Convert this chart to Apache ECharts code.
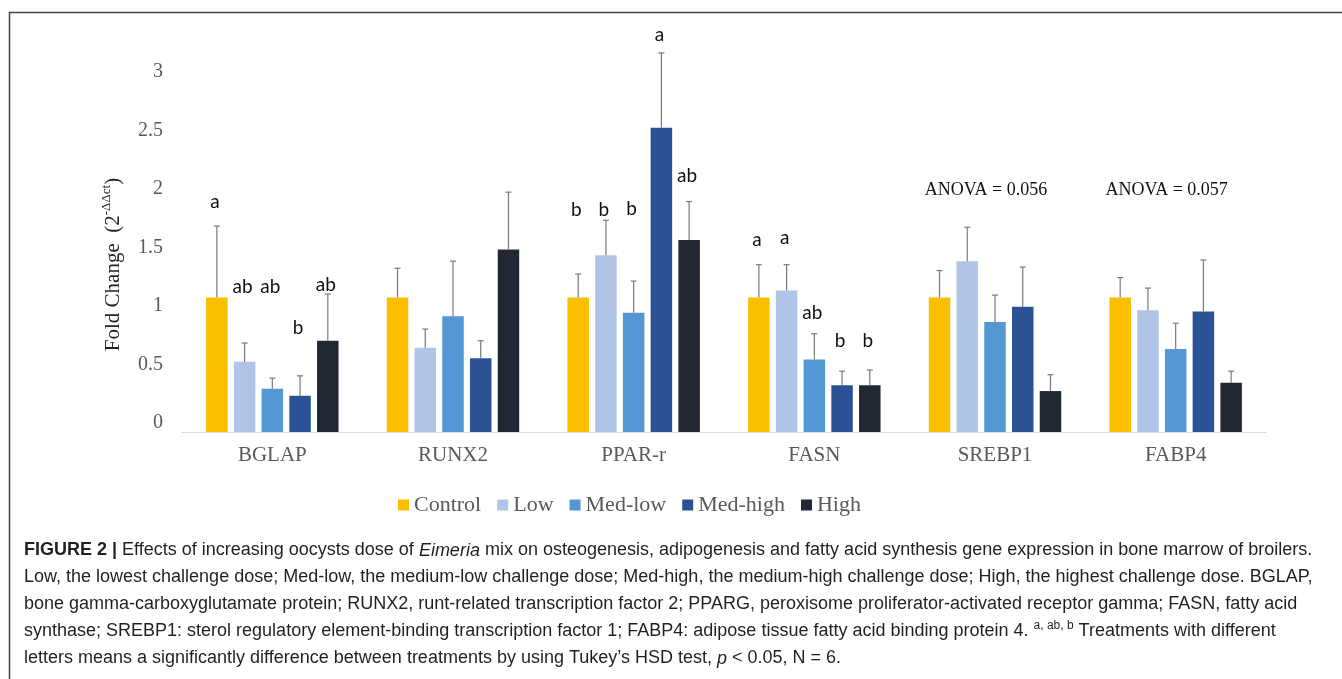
<!DOCTYPE html>
<html>
<head>
<meta charset="utf-8">
<script src="https://cdn.jsdelivr.net/npm/echarts@6/dist/echarts.min.js"></script>
<style>
  html, body { margin: 0; padding: 0; background: #fff; }
</style>
</head>
<body>
<div id="chart" style="width: 1342px; height: 679px"></div>
<script>
// gene categories and treatment groups
const genes = ['BGLAP', 'RUNX2', 'PPAR-r', 'FASN', 'SREBP1', 'FABP4']
const treatments = ['Control', 'Low', 'Med-low', 'Med-high', 'High']
const yTicks = [0, 0.5, 1, 1.5, 2, 2.5, 3]

// mean fold change per gene
const controlMean = [1.15, 1.15, 1.15, 1.15, 1.15, 1.15]
const lowMean = [0.60, 0.72, 1.51, 1.21, 1.46, 1.04]
const medLowMean = [0.37, 0.99, 1.02, 0.62, 0.94, 0.71]
const medHighMean = [0.31, 0.63, 2.60, 0.40, 1.07, 1.03]
const highMean = [0.78, 1.56, 1.64, 0.40, 0.35, 0.42]

// standard error (upper bar only)
const controlErr = [0.61, 0.25, 0.20, 0.28, 0.23, 0.17]
const lowErr = [0.16, 0.16, 0.30, 0.22, 0.29, 0.19]
const medLowErr = [0.09, 0.47, 0.27, 0.22, 0.23, 0.22]
const medHighErr = [0.17, 0.15, 0.64, 0.12, 0.34, 0.44]
const highErr = [0.40, 0.49, 0.33, 0.13, 0.14, 0.10]

// significance letters and the height (axis units) where each was written
const controlLetters = ['a', '', 'b', 'a', '', '']
const lowLetters = ['ab', '', 'b', 'a', '', '']
const medLowLetters = ['ab', '', 'b', 'ab', '', '']
const medHighLetters = ['b', '', 'a', 'b', '', '']
const highLetters = ['ab', '', 'ab', 'b', '', '']
const controlLetterAt = [1.97, 0, 1.90, 1.64, 0, 0]
const lowLetterAt = [1.24, 0, 1.90, 1.66, 0, 0]
const medLowLetterAt = [1.24, 0, 1.91, 1.02, 0, 0]
const medHighLetterAt = [0.89, 0, 3.39, 0.78, 0, 0]
const highLetterAt = [1.26, 0, 2.19, 0.78, 0, 0]

// ANOVA notes
const anovaGenes = ['SREBP1', 'FABP4']
const anovaText = ['ANOVA = 0.056', 'ANOVA = 0.057']
const anovaAt = [2.07, 2.07]

const means = [controlMean, lowMean, medLowMean, medHighMean, highMean]
const errs = [controlErr, lowErr, medLowErr, medHighErr, highErr]
const letters = [controlLetters, lowLetters, medLowLetters, medHighLetters, highLetters]
const letterAt = [controlLetterAt, lowLetterAt, medLowLetterAt, medHighLetterAt, highLetterAt]
const colors = ['#FBBF00', '#AFC4E6', '#5597D4', '#2B5294', '#222833']

const barWidth = 21.5
const barGap = 0.29
const pitch = barWidth * (1 + barGap)
const serif = '"Liberation Serif", "Times New Roman", serif'
const sans = '"Liberation Sans", Arial, sans-serif'

const chart = echarts.init(document.getElementById('chart'))

const barSeries = treatments.map((name, i) => ({
  name: name,
  type: 'bar',
  data: means[i],
  barWidth: barWidth,
  barGap: (barGap * 100) + '%',
  itemStyle: { color: colors[i] },
  z: 2
}))

const errSeries = treatments.map((name, i) => ({
  type: 'custom',
  name: name + '-err',
  data: genes.map((g, k) => [k, means[i][k], errs[i][k], letterAt[i][k]]),
  z: 3,
  silent: true,
  renderItem: (params, api) => {
    const k = api.value(0)
    const x = api.coord([k, 0])[0] + (i - 2) * pitch
    const y0 = api.coord([k, api.value(1)])[1]
    const y1 = api.coord([k, api.value(1) + api.value(2)])[1]
    const children = [
      { type: 'line', shape: { x1: x, y1: y0, x2: x, y2: y1 }, style: { stroke: '#7a7a7a', lineWidth: 1.2 } },
      { type: 'line', shape: { x1: x - 3, y1: y1, x2: x + 3, y2: y1 }, style: { stroke: '#7a7a7a', lineWidth: 1.2 } }
    ]
    const txt = letters[i][params.dataIndex]
    if (txt) {
      const ly = api.coord([k, api.value(3)])[1]
      children.push({
        type: 'text',
        x: x - 2,
        y: ly,
        style: {
          text: txt,
          fill: '#111',
          font: '19px Lato, "Open Sans", sans-serif',
          align: 'center',
          verticalAlign: 'middle'
        }
      })
    }
    return { type: 'group', children: children }
  }
}))

const anovaSeries = {
  type: 'custom',
  name: 'anova',
  data: anovaGenes.map((g, j) => [genes.indexOf(g), anovaAt[j]]),
  silent: true,
  renderItem: (params, api) => {
    const p = api.coord([api.value(0), api.value(1)])
    return {
      type: 'text',
      x: p[0] - 9,
      y: p[1],
      style: {
        text: anovaText[params.dataIndex],
        fill: '#111',
        font: '18px ' + serif,
        align: 'center',
        verticalAlign: 'middle'
      }
    }
  }
}

const caption = [
  '{b|FIGURE 2 |} Effects of increasing oocysts dose of {i|Eimeria} mix on osteogenesis, adipogenesis and fatty acid synthesis gene expression in bone marrow of broilers.',
  'Low, the lowest challenge dose; Med-low, the medium-low challenge dose; Med-high, the medium-high challenge dose; High, the highest challenge dose. BGLAP,',
  'bone gamma-carboxyglutamate protein; RUNX2, runt-related transcription factor 2; PPARG, peroxisome proliferator-activated receptor gamma; FASN, fatty acid',
  'synthase; SREBP1: sterol regulatory element-binding transcription factor 1; FABP4: adipose tissue fatty acid binding protein 4. {sup|a, ab, b} Treatments with different',
  'letters means a significantly difference between treatments by using Tukey\u2019s HSD test, {i|p} < 0.05, N = 6.'
].join('\n')

const capFont = 18

const option = {
  animation: false,
  backgroundColor: '#fff',
  color: colors,
  grid: { left: 182, right: 76, top: 81, bottom: 247 },
  legend: {
    data: treatments,
    left: 393,
    top: 489,
    icon: 'rect',
    itemWidth: 11,
    itemHeight: 11,
    itemGap: 16,
    textStyle: { fontFamily: serif, fontSize: 22, color: '#595959' }
  },
  xAxis: {
    type: 'category',
    data: genes,
    axisTick: { show: false },
    axisLine: { lineStyle: { color: '#d9d9d9', width: 1 } },
    axisLabel: { fontFamily: serif, fontSize: 21, color: '#595959', margin: 13 }
  },
  yAxis: {
    type: 'value',
    min: yTicks[0],
    max: yTicks[yTicks.length - 1],
    interval: yTicks[1] - yTicks[0],
    splitLine: { show: false },
    axisLine: { show: false },
    axisTick: { show: false },
    axisLabel: {
      fontFamily: serif,
      fontSize: 20,
      color: '#595959',
      margin: 19,
      verticalAlign: 'bottom',
      lineHeight: 18
    },
    name: '{t|Fold Change  (2}{s|-ΔΔct}{t|)}',
    nameLocation: 'middle',
    nameRotate: 90,
    nameGap: 55,
    nameTextStyle: {
      padding: [0, 16, 0, 0],
      rich: {
        t: { fontFamily: serif, fontSize: 21, color: '#222' },
        s: { fontFamily: serif, fontSize: 13, color: '#222', padding: [0, 0, 14, 0] }
      }
    }
  },
  graphic: [
    { type: 'line', shape: { x1: 9, y1: 12.5, x2: 1342, y2: 12.5 }, style: { stroke: '#444', lineWidth: 1.5 } },
    { type: 'line', shape: { x1: 9.5, y1: 12, x2: 9.5, y2: 679 }, style: { stroke: '#444', lineWidth: 1.5 } },
    {
      type: 'text',
      left: 24,
      top: 537,
      style: {
        text: caption,
        fill: '#231f20',
        font: capFont + 'px ' + sans,
        lineHeight: 27,
        rich: {
          b: { fontWeight: 'bold', fontSize: capFont, fontFamily: sans, fill: '#231f20', lineHeight: 27 },
          i: { fontStyle: 'italic', fontSize: capFont, fontFamily: sans, fill: '#231f20', lineHeight: 27 },
          sup: { fontSize: 12, fontFamily: sans, fill: '#231f20', padding: [0, 0, 11, 0], lineHeight: 27 }
        }
      }
    }
  ],
  series: [...barSeries, ...errSeries, anovaSeries]
}

chart.setOption(option)
</script>
</body>
</html>
